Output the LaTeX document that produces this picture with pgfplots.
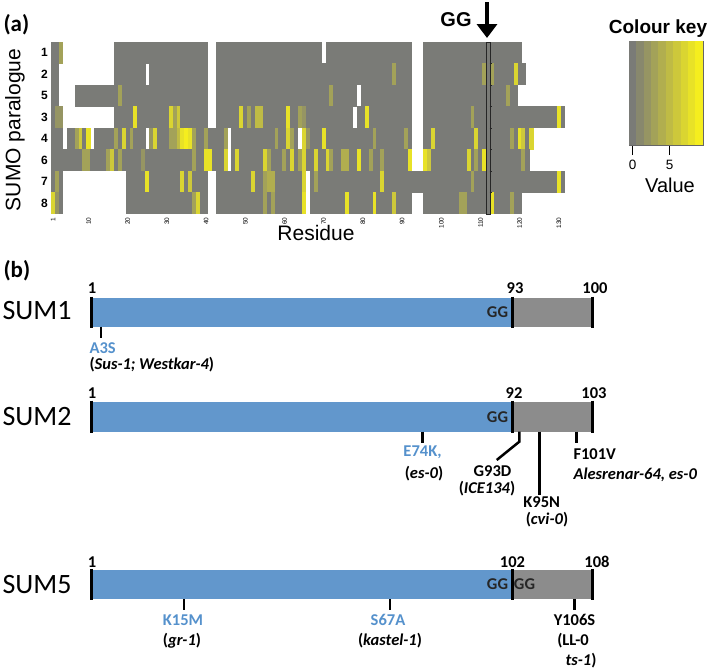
\documentclass[border=0pt]{standalone}
\usepackage{pgfplots}
\pgfplotsset{compat=1.18}
\usepackage{pgfplotstable}
\usepackage{fontspec}
\setmainfont{Liberation Sans}
\newfontfamily\calib{Carlito}
\usetikzlibrary{arrows.meta}

\definecolor{barblue}{RGB}{98,151,204}
\definecolor{bargrey}{RGB}{140,140,140}
\definecolor{txtblue}{RGB}{85,145,204}

\pgfdeclareplotmark{hcell}{\pgfpathrectangle{\pgfpoint{-2.15bp}{-11bp}}{\pgfpoint{4.3bp}{22bp}}\pgfusepathqfill}
\pgfdeclareplotmark{kcell}{\pgfpathrectangle{\pgfpoint{-3.9bp}{-52bp}}{\pgfpoint{7.8bp}{104bp}}\pgfusepathqfill}

\pgfplotsset{
  hm/.style={scatter, only marks, mark=hcell, point meta=explicit,
    scatter/use mapped color={draw=none, fill=mapped color},
    restrict expr to domain={\thisrow{#1}}{-0.5:20}},
  gymap/.style={colormap={gy}{rgb255(0cm)=(122,123,119); rgb255(1cm)=(245,238,30)},
    point meta min=0, point meta max=9},
  heatgeom/.style={at={(51.3bp,-214bp)}, anchor=south west, scale only axis,
    width=513.5bp, height=172bp, xmin=0.5, xmax=131.5, ymin=0.5, ymax=8.5, clip=false}
}
\newcommand\bl{\calib\bfseries\fontsize{16.5bp}{18bp}\selectfont}

% columns: residue, then SUMO paralogues 1 2 5 3 4 6 7 8 (top to bottom); -1 = gap (white)
\pgfplotstableread{
x a b c d e f g h
1 0 0 0 0 0 0 0 7
2 0 0 0 2 0 0 3 2
3 3 -1 -1 2 0 0 0 0
4 -1 -1 -1 -1 -1 0 -1 -1
5 -1 -1 -1 -1 0 0 -1 -1
6 -1 -1 -1 -1 0 0 -1 -1
7 -1 -1 0 -1 3 0 -1 -1
8 -1 -1 0 -1 6 0 -1 -1
9 -1 -1 0 -1 0 3 -1 -1
10 -1 -1 0 -1 8 3 -1 -1
11 -1 -1 0 -1 -1 0 -1 -1
12 -1 -1 0 -1 0 0 -1 -1
13 -1 -1 0 -1 0 0 -1 -1
14 -1 -1 0 -1 0 0 -1 -1
15 -1 -1 0 -1 0 3 -1 -1
16 -1 -1 0 -1 0 6 -1 -1
17 0 0 0 0 3 0 -1 -1
18 0 0 3 0 0 3 -1 -1
19 0 0 0 0 7 0 -1 -1
20 0 0 0 0 0 0 0 0
21 0 0 0 0 3 0 0 0
22 0 0 0 8 0 0 0 0
23 0 0 0 0 0 0 0 0
24 0 0 0 0 0 2 0 0
25 0 -1 0 0 -1 0 8 0
26 0 0 0 0 2 0 0 0
27 0 0 0 0 7 0 0 0
28 0 0 0 0 0 0 0 0
29 0 0 0 0 0 0 0 0
30 0 0 0 0 0 0 0 0
31 0 0 0 7 3 0 0 0
32 0 0 0 3 3 0 0 0
33 0 0 0 6 5 0 0 0
34 0 0 0 0 8 0 7 0
35 0 0 0 0 9 0 0 0
36 0 0 0 0 8 0 6 0
37 0 0 0 0 3 3 0 3
38 0 0 0 0 0 0 0 7
39 0 0 0 0 0 0 0 0
40 0 0 0 0 3 8 0 0
41 -1 -1 -1 -1 0 8 -1 -1
42 -1 -1 -1 -1 0 0 -1 -1
43 0 0 0 0 0 0 0 0
44 0 0 0 0 0 0 0 0
45 0 0 0 0 3 7 0 0
46 0 0 0 0 -1 -1 0 0
47 0 0 0 0 0 0 0 0
48 0 0 0 0 0 7 0 0
49 0 0 0 7 0 0 0 0
50 0 0 0 0 0 0 0 0
51 0 0 0 3 0 0 0 0
52 0 0 0 0 0 0 7 0
53 0 0 0 5 0 0 0 0
54 0 0 0 5 0 0 0 0
55 0 0 0 0 0 7 3 3
56 0 0 0 0 0 3 4 0
57 0 0 0 0 0 0 4 3
58 0 0 0 0 3 0 0 0
59 0 0 0 0 0 0 0 0
60 0 0 0 0 0 3 0 0
61 0 0 0 8 7 0 0 0
62 0 0 0 0 3 7 0 0
63 0 0 0 0 0 0 0 0
64 0 0 0 3 -1 3 0 0
65 0 0 0 2 7 7 7 8
66 0 0 0 0 2 0 -1 -1
67 0 0 0 0 0 0 0 0
68 0 0 0 0 0 7 3 0
69 0 0 0 0 0 0 0 0
70 -1 0 0 0 8 0 0 0
71 0 0 0 0 0 7 0 0
72 0 0 3 0 0 3 0 0
73 0 0 0 0 0 0 0 0
74 0 0 0 0 0 0 0 0
75 0 0 0 0 0 4 0 0
76 0 0 0 0 0 4 0 8
77 0 0 0 0 0 0 0 0
78 0 0 0 -1 0 0 0 0
79 0 0 -1 0 0 8 0 0
80 0 0 0 0 0 0 0 0
81 0 0 0 8 0 0 0 0
82 0 0 0 0 0 3 0 0
83 0 0 0 0 3 0 0 8
84 0 0 0 0 0 0 0 0
85 0 0 0 0 0 3 7 0
86 0 0 0 0 0 0 0 0
87 0 0 0 0 0 0 0 0
88 0 3 0 0 0 0 0 6
89 0 0 0 0 0 0 0 0
90 0 0 0 0 0 0 0 0
91 0 0 0 0 3 0 0 0
92 0 0 0 0 0 8 0 0
93 -1 -1 -1 -1 -1 -1 0 -1
94 -1 -1 -1 -1 -1 -1 0 -1
95 -1 -1 -1 -1 -1 -1 0 -1
96 0 0 0 0 0 8 0 0
97 0 0 0 0 0 6 0 0
98 0 0 0 0 7 0 0 0
99 0 0 0 0 0 0 0 0
100 0 0 0 0 0 0 0 0
101 0 0 0 0 0 0 0 0
102 0 0 0 0 0 0 0 0
103 0 0 0 0 0 0 0 0
104 0 0 0 0 0 0 0 0
105 0 0 0 0 0 0 0 3
106 0 0 0 0 0 0 0 3
107 0 0 0 0 0 7 0 0
108 0 0 0 3 0 0 3 0
109 0 0 0 0 7 3 0 0
110 0 0 0 0 0 0 0 0
111 0 3 0 0 0 8 0 0
112 0 0 0 0 0 0 0 0
113 0 3 0 0 0 0 0 8
114 0 0 0 0 0 0 0 0
115 0 0 0 0 0 0 0 0
116 0 0 0 0 0 0 0 0
117 0 0 3 0 0 0 0 0
118 0 0 0 0 3 0 0 3
119 0 7 0 0 0 0 0 0
120 0 0 -1 0 8 0 0 0
121 -1 0 -1 0 6 3 0 -1
122 -1 -1 -1 0 0 0 0 -1
123 -1 -1 -1 0 7 -1 0 -1
124 -1 -1 -1 0 -1 -1 0 -1
125 -1 -1 -1 0 -1 -1 0 -1
126 -1 -1 -1 0 -1 -1 0 -1
127 -1 -1 -1 0 -1 -1 0 -1
128 -1 -1 -1 0 -1 -1 0 -1
129 -1 -1 -1 0 -1 -1 0 -1
130 -1 -1 -1 8 -1 -1 8 -1
131 -1 -1 -1 0 -1 -1 0 -1
}\heat

\begin{document}
\begin{tikzpicture}
\path[use as bounding box] (0bp,0bp) rectangle (709bp,-671bp);

% ---------------- (a) heatmap
\begin{axis}[heatgeom,
  axis line style={draw=none}, major tick length=0pt,
  xtick={1,10,20,30,40,50,60,70,80,90,100,110,120,130},
  ytick={1,2,3,4,5,6,7,8}, yticklabels={8,7,6,4,3,5,2,1},
  /pgf/number format/assume math mode=true,
  xticklabel style={rotate=90, anchor=east, font=\fontsize{6.5bp}{7bp}\selectfont},
  yticklabel style={font=\bfseries\fontsize{12bp}{13bp}\selectfont},
  gymap]
\addplot[hm=a] table[x=x, y expr=8, meta=a] {\heat};
\addplot[hm=b] table[x=x, y expr=7, meta=b] {\heat};
\addplot[hm=c] table[x=x, y expr=6, meta=c] {\heat};
\addplot[hm=d] table[x=x, y expr=5, meta=d] {\heat};
\addplot[hm=e] table[x=x, y expr=4, meta=e] {\heat};
\addplot[hm=f] table[x=x, y expr=3, meta=f] {\heat};
\addplot[hm=g] table[x=x, y expr=2, meta=g] {\heat};
\addplot[hm=h] table[x=x, y expr=1, meta=h] {\heat};
\end{axis}
% overlay: GG position marker column
\begin{axis}[heatgeom, axis lines=none, xtick=\empty, ytick=\empty]
\addplot[black!85, line width=1bp, mark=none] coordinates {(111.5,0.5) (111.5,8.5) (112.5,8.5) (112.5,0.5)} -- cycle;
\addplot[black!85, line width=0.8bp, mark=none] coordinates {(112.3,1.5) (112.9,1.5)};
\addplot[black!85, line width=0.8bp, mark=none] coordinates {(112.3,2.5) (112.9,2.5)};
\addplot[black!85, line width=0.8bp, mark=none] coordinates {(112.3,3.5) (112.9,3.5)};
\addplot[black!85, line width=0.8bp, mark=none] coordinates {(112.3,4.5) (112.9,4.5)};
\addplot[black!85, line width=0.8bp, mark=none] coordinates {(112.3,5.5) (112.9,5.5)};
\addplot[black!85, line width=0.8bp, mark=none] coordinates {(112.3,6.5) (112.9,6.5)};
\addplot[black!85, line width=0.8bp, mark=none] coordinates {(112.3,7.5) (112.9,7.5)};
\end{axis}

\node[anchor=west, font=\calib\bfseries\fontsize{23bp}{26bp}\selectfont] at (0bp,-25bp) {(a)};
\node[rotate=90, font=\fontsize{21bp}{24bp}\selectfont] at (15bp,-130bp) {SUMO paralogue};
\node[font=\fontsize{21bp}{24bp}\selectfont] at (316bp,-233bp) {Residue};
\node[font=\bfseries\fontsize{20bp}{22bp}\selectfont] at (456bp,-20bp) {GG};
\draw[line width=4bp, -{Triangle[width=20bp,length=14bp]}] (487bp,-2bp) -- (487bp,-38bp);

% ---------------- colour key
\begin{axis}[at={(629bp,-145bp)}, anchor=south west, scale only axis,
  width=74bp, height=104bp, xmin=-0.5, xmax=9.5, ymin=0, ymax=1,
  axis on top, ytick=\empty, xtick={0,5}, tick pos=left, tick align=outside,
  major tick length=10bp, tick style={black, line width=1.2bp},
  axis line style={black!60, line width=0.5bp},
  /pgf/number format/assume math mode=true,
  xticklabel style={font=\fontsize{13.5bp}{14bp}\selectfont, yshift=-2bp},
  gymap]
\addplot[scatter, only marks, mark=kcell, point meta=explicit,
  scatter/use mapped color={draw=none, fill=mapped color}]
  coordinates {(0,0.5) [0] (1,0.5) [1] (2,0.5) [2] (3,0.5) [3] (4,0.5) [4]
               (5,0.5) [5] (6,0.5) [6] (7,0.5) [7] (8,0.5) [8] (9,0.5) [9]};
\end{axis}
\node[font=\bfseries\fontsize{19bp}{22bp}\selectfont] at (658bp,-29bp) {Colour key};
\node[font=\fontsize{20bp}{22bp}\selectfont] at (670bp,-185bp) {Value};

% ---------------- (b) protein schematics
\begin{axis}[at={(0bp,-671bp)}, anchor=south west, scale only axis,
  width=709bp, height=421bp, xmin=0, xmax=709, ymin=-671, ymax=-250,
  axis lines=none, clip=false]
% SUM1
\addplot[fill=barblue, draw=none] coordinates {(91,-297.7) (512,-297.7) (512,-326.7) (91,-326.7)} -- cycle;
\addplot[fill=bargrey, draw=none] coordinates {(512,-297.7) (592,-297.7) (592,-326.7) (512,-326.7)} -- cycle;
% SUM2
\addplot[fill=barblue, draw=none] coordinates {(91,-401.7) (512,-401.7) (512,-431.7) (91,-431.7)} -- cycle;
\addplot[fill=bargrey, draw=none] coordinates {(512,-401.7) (592,-401.7) (592,-431.7) (512,-431.7)} -- cycle;
% SUM5
\addplot[fill=barblue, draw=none] coordinates {(91,-570) (512,-570) (512,-599) (91,-599)} -- cycle;
\addplot[fill=bargrey, draw=none] coordinates {(512,-570) (592,-570) (592,-599) (512,-599)} -- cycle;
% boundary ticks
\addplot[black, line width=3bp] coordinates {(91,-296.5) (91,-327.8)};
\addplot[black, line width=3bp] coordinates {(512,-296.5) (512,-327.8)};
\addplot[black, line width=3bp] coordinates {(592,-296.5) (592,-327.8)};
\addplot[black, line width=3bp] coordinates {(91,-400.5) (91,-432.8)};
\addplot[black, line width=3bp] coordinates {(512,-400.5) (512,-432.8)};
\addplot[black, line width=3bp] coordinates {(592,-400.5) (592,-432.8)};
\addplot[black, line width=3bp] coordinates {(91,-568.8) (91,-600)};
\addplot[black, line width=3bp] coordinates {(512,-568.8) (512,-600)};
\addplot[black, line width=3bp] coordinates {(592,-568.8) (592,-600)};
% mutation ticks
\addplot[black, line width=2.5bp] coordinates {(101,-326.7) (101,-338)};
\addplot[black, line width=2.5bp] coordinates {(422.7,-431.7) (422.7,-443)};
\addplot[black, line width=2.5bp] coordinates {(576.7,-431.7) (576.7,-443)};
\addplot[black, line width=2.5bp] coordinates {(519.3,-431.7) (519.3,-441.7) (496.7,-460)};
\addplot[black, line width=2.5bp] coordinates {(539.3,-431.7) (539.3,-495)};
\addplot[black, line width=2.5bp] coordinates {(184,-599) (184,-610)};
\addplot[black, line width=2.5bp] coordinates {(390,-599) (390,-610)};
\addplot[black, line width=2.5bp] coordinates {(574.3,-599) (574.3,-610)};

% texts
\node[anchor=west, font=\calib\bfseries\fontsize{23bp}{26bp}\selectfont] at (axis cs:0,-271) {(b)};
\node[anchor=west, font=\calib\fontsize{28bp}{30bp}\selectfont] at (axis cs:-1,-311) {SUM1};
\node[anchor=west, font=\calib\fontsize{28bp}{30bp}\selectfont] at (axis cs:-1,-417) {SUM2};
\node[anchor=west, font=\calib\fontsize{28bp}{30bp}\selectfont] at (axis cs:-1,-585) {SUM5};

\node[font=\bl] at (axis cs:92,-288) {1};
\node[font=\bl] at (axis cs:515,-288) {93};
\node[font=\bl] at (axis cs:595,-288) {100};
\node[font=\bl] at (axis cs:92,-393) {1};
\node[font=\bl] at (axis cs:514,-393) {92};
\node[font=\bl] at (axis cs:594,-393) {103};
\node[font=\bl] at (axis cs:92,-562) {1};
\node[font=\bl] at (axis cs:512.5,-562) {102};
\node[font=\bl] at (axis cs:597,-562) {108};

\node[font=\bl, text=black!85] at (axis cs:497.5,-312) {GG};
\node[font=\bl, text=black!85] at (axis cs:497.5,-417.5) {GG};
\node[font=\bl, text=black!85] at (axis cs:497.5,-584) {GG};
\node[font=\bl, text=black!85] at (axis cs:524.5,-584) {GG};

\node[anchor=west, font=\bl, text=txtblue] at (axis cs:86,-348.5) {A3S};
\node[anchor=west, font=\bl] at (axis cs:86,-365) {(\textit{Sus-1; Westkar-4})};
\node[font=\bl, text=txtblue] at (axis cs:422.5,-452.5) {E74K,};
\node[font=\bl] at (axis cs:424,-474) {(\textit{es-0})};
\node[font=\bl] at (axis cs:492.5,-471) {G93D};
\node[font=\bl] at (axis cs:487,-489) {(\textit{ICE134})};
\node[font=\bl] at (axis cs:541.7,-502.5) {K95N};
\node[font=\bl] at (axis cs:547,-520) {(\textit{cvi-0})};
\node[anchor=west, font=\bl] at (axis cs:570,-454) {F101V};
\node[anchor=west, font=\bl] at (axis cs:570,-475) {\textit{Alesrenar-64, es-0}};
\node[font=\bl, text=txtblue] at (axis cs:183,-620) {K15M};
\node[font=\bl] at (axis cs:182,-641) {(\textit{gr-1})};
\node[font=\bl, text=txtblue] at (axis cs:388,-620) {S67A};
\node[font=\bl] at (axis cs:390,-641) {(\textit{kastel-1})};
\node[font=\bl] at (axis cs:574.5,-620) {Y106S};
\node[font=\bl] at (axis cs:573,-641) {(LL-0};
\node[font=\bl] at (axis cs:581,-661) {\textit{ts-1})};
\end{axis}
\end{tikzpicture}
\end{document}
